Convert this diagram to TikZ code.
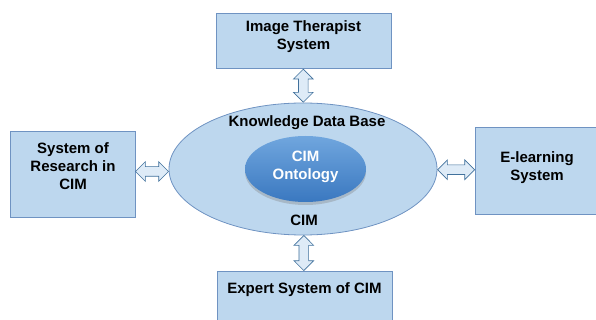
\documentclass[tikz,border=0pt]{standalone}
\usepackage{fontspec}
\setmainfont{Liberation Sans}
\usetikzlibrary{shapes.geometric,shapes.arrows,shadows,calc}
\definecolor{boxfill}{HTML}{BDD7EE}
\definecolor{boxline}{HTML}{6F93C2}
\definecolor{arrowfill}{HTML}{DEEBF7}
\definecolor{arrowline}{HTML}{41719C}
\definecolor{ontotop}{HTML}{70A6DE}
\definecolor{ontobot}{HTML}{3A78C0}
\begin{document}
\begin{tikzpicture}[x=1pt,y=-1pt,
    font=\fontsize{15}{18}\selectfont\bfseries,
    sysbox/.style={draw=boxline,fill=boxfill,line width=0.8pt,inner sep=0pt},
    linkarrow/.style={double arrow,draw=arrowline,fill=arrowfill,line width=0.7pt,
      inner xsep=0pt,inner ysep=4.5pt,minimum width=19pt,double arrow head extend=5pt,
      double arrow head indent=0pt},
    boxtext/.style={align=center,inner sep=0pt}]
    \useasboundingbox (0,0) rectangle (596,320);
    \clip (0,0) rectangle (596,320);

    % systems round the data base
    \node[sysbox,minimum width=175pt,minimum height=55pt] (therapist) at (303.5,41) {};
    \node[sysbox,minimum width=125pt,minimum height=86pt] (research) at (72.5,174) {};
    \node[sysbox,minimum width=124pt,minimum height=87pt] (elearn) at (537,170.5) {};
    \node[sysbox,minimum width=175pt,minimum height=58pt] (expert) at (304.5,300) {};

    \node[boxtext] at (303.5,37) {Image Therapist\\System};
    \node[boxtext] at (73,166) {System of\\Research in\\CIM};
    \node[boxtext] at (537,168) {E-learning\\System};
    \node[boxtext] at (304.5,290) {Expert System of CIM};

    % knowledge data base
    \node[ellipse,draw=boxline,fill=boxfill,line width=0.8pt,
      minimum width=268pt,minimum height=132pt] (kdb) at (303,169) {};
    \node[ellipse,top color=ontotop,bottom color=ontobot,draw=none,
      drop shadow={shadow xshift=0pt,shadow yshift=-3pt,opacity=0.35},
      minimum width=121pt,minimum height=66pt] (onto) at (305.5,169) {};
    \node[boxtext,text=white] at (305.5,167) {CIM\\Ontology};
    \node[boxtext] (kdbtitle) at (307,123) {Knowledge Data Base};
    \node[boxtext] (kdbname) at (304,220) {CIM};

    % links
    \node[linkarrow,rotate=90,minimum height=33pt] (toplink)
      at ($(therapist.south)!0.5!(kdb.north)$) {};
    \node[linkarrow,rotate=90,minimum height=35pt] (botlink)
      at ($(kdb.south)!0.5!(expert.north)$) {};
    \node[linkarrow,minimum height=33pt] (leftlink)
      at ($(research.east)!0.5!(kdb.west)$) {};
    \node[linkarrow,minimum height=37pt] (rightlink)
      at ($(kdb.east)!0.5!(elearn.west)$) {};
\end{tikzpicture}
\end{document}
